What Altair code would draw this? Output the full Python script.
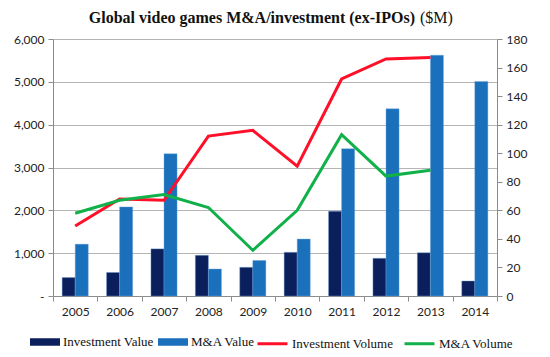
import altair as alt
import pandas as pd

years = ["2005", "2006", "2007", "2008", "2009", "2010", "2011", "2012", "2013", "2014"]
investment_value = [430, 550, 1100, 950, 670, 1020, 1980, 880, 1010, 350]
ma_value = [1210, 2080, 3320, 630, 830, 1330, 3440, 4370, 5620, 5010]
investment_volume = [49, 68, 67, 112, 116, 91, 152, 166, 167, None]
ma_volume = [58, 67, 71, 62, 32, 60, 113, 84, 88, None]

bar_series = ["Investment Value", "M&A Value"]
line_series = ["Investment Volume", "M&A Volume"]
bar_colors = ["#0a1f5c", "#1b70bc"]
line_colors = ["#ff1028", "#10b04a"]

title_main = "Global video games M&A/investment (ex-IPOs)"
title_unit = "($M)"

bar_rows = []
for y, a, b in zip(years, investment_value, ma_value):
    bar_rows.append({"year": y, "series": bar_series[0], "value": a})
    bar_rows.append({"year": y, "series": bar_series[1], "value": b})
bars_df = pd.DataFrame(bar_rows)

line_rows = []
for y, a, b in zip(years, investment_volume, ma_volume):
    if a is not None:
        line_rows.append({"year": y, "series": line_series[0], "volume": a})
    if b is not None:
        line_rows.append({"year": y, "series": line_series[1], "volume": b})
lines_df = pd.DataFrame(line_rows)

axis_common = dict(
    labelFont="Lato", labelFontSize=12, labelColor="#222222",
    domainColor="#8c8c8c", tickColor="#8c8c8c", tickSize=5, title=None,
)

x = alt.X(
    "year:N",
    scale=alt.Scale(domain=years, paddingInner=0, paddingOuter=0),
    axis=alt.Axis(labelAngle=0, tickBand="extent", grid=False, labelPadding=5, **axis_common),
)

bars = alt.Chart(bars_df).mark_bar(stroke="#6fa3d8", strokeWidth=0.4).encode(
    x=x,
    xOffset=alt.XOffset("series:N", scale=alt.Scale(domain=bar_series, paddingInner=0, paddingOuter=0.7)),
    y=alt.Y(
        "value:Q",
        scale=alt.Scale(domain=[0, 6000]),
        axis=alt.Axis(
            values=[0, 1000, 2000, 3000, 4000, 5000, 6000],
            labelExpr="datum.value == 0 ? '-\u00a0\u00a0\u00a0\u00a0' : format(datum.value, ',')",
            grid=True, gridColor="#b5b5b5", gridWidth=1, labelPadding=4,
            **axis_common,
        ),
    ),
    fill=alt.Fill(
        "series:N",
        scale=alt.Scale(domain=bar_series, range=bar_colors),
        legend=alt.Legend(
            title=None, orient="none", legendX=-23, legendY=288, direction="horizontal",
            symbolType="M-1,-0.25H1V0.25H-1Z", symbolSize=900, symbolStrokeWidth=0,
            labelFont="Liberation Serif", labelFontSize=13, labelColor="#111111",
            columnPadding=4, labelOffset=3,
        ),
    ),
)

lines = alt.Chart(lines_df).mark_line(strokeWidth=3).encode(
    x=x,
    y=alt.Y(
        "volume:Q",
        scale=alt.Scale(domain=[0, 180]),
        axis=alt.Axis(
            orient="right", values=list(range(0, 181, 20)), grid=False, labelPadding=4,
            **axis_common,
        ),
    ),
    stroke=alt.Stroke(
        "series:N",
        scale=alt.Scale(domain=line_series, range=line_colors),
        legend=alt.Legend(
            title=None, orient="none", legendX=203, legendY=288, direction="horizontal",
            symbolType="stroke", symbolSize=900, symbolStrokeWidth=3,
            labelFont="Liberation Serif", labelFontSize=13, labelColor="#111111",
            columnPadding=4, labelOffset=3,
        ),
    ),
)

title_df = pd.DataFrame({"main": [title_main], "unit": [title_unit]})
title_bold = alt.Chart(title_df).mark_text(
    font="Liberation Serif", fontSize=16, fontWeight="bold", color="#111111",
    align="right", baseline="alphabetic",
).encode(text="main:N", x=alt.value(362), y=alt.value(-16))
title_plain = alt.Chart(title_df).mark_text(
    font="Liberation Serif", fontSize=16, fontWeight="normal", color="#111111",
    align="left", baseline="alphabetic",
).encode(text="unit:N", x=alt.value(367), y=alt.value(-16))

chart = (
    alt.layer(bars, lines, title_bold, title_plain)
    .resolve_scale(y="independent", xOffset="independent")
    .properties(
        width=444, height=257,
        autosize=alt.AutoSizeParams(type="none"),
        padding={"left": 45, "top": 31, "right": 45, "bottom": 60},
    )
    .configure_view(stroke=None)
)

chart.save("out.html", embed_options={"renderer": "svg", "actions": False})
